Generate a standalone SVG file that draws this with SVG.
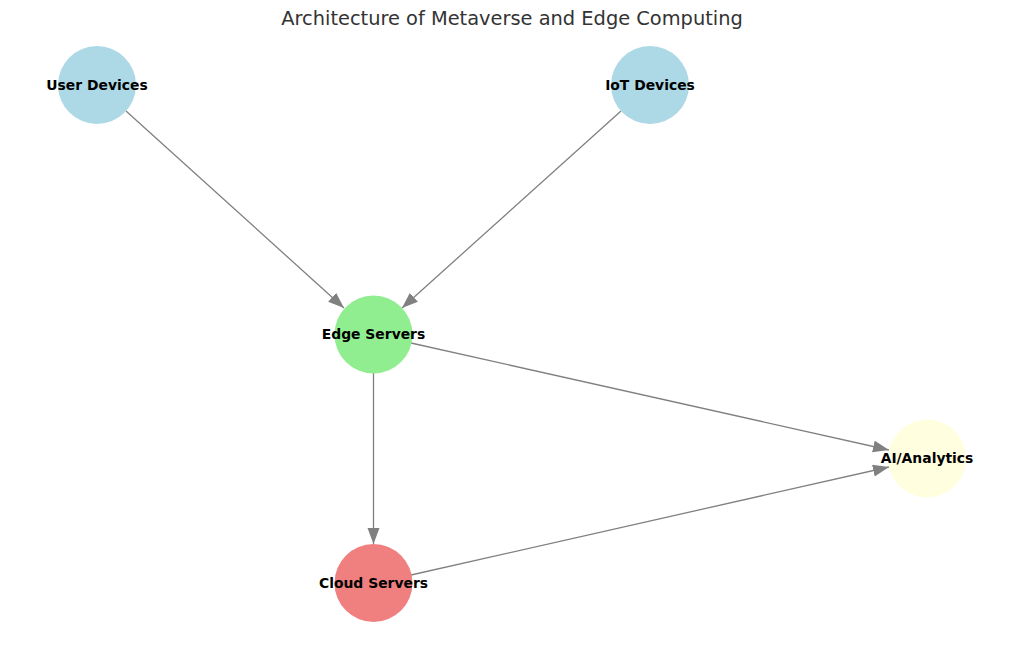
<svg xmlns="http://www.w3.org/2000/svg" width="1024" height="646" viewBox="0 0 1024 646">
<style>
.node circle{stroke:none}
.lbl{font-family:"DejaVu Sans",sans-serif;font-weight:bold;font-size:13.9px;fill:#000;text-anchor:middle}
.title{font-family:"DejaVu Sans",sans-serif;font-size:19.4px;fill:#333;text-anchor:middle}
.edge{stroke:#808080;stroke-width:1.3;fill:none;marker-end:url(#arr)}
</style>
<defs>
<marker id="arr" markerUnits="userSpaceOnUse" markerWidth="17" markerHeight="13" refX="16" refY="6" orient="auto">
<path d="M0,0 L16,6 L0,12 z" fill="#808080"/>
</marker>
</defs>
<rect width="1024" height="646" fill="#fff"/>
<text class="title" x="512" y="25">Architecture of Metaverse and Edge Computing</text>
<g id="connectors">
<line class="edge" x1="126" y1="111" x2="344" y2="308"/>
<line class="edge" x1="621" y1="111" x2="402" y2="308"/>
<line class="edge" x1="411" y1="343" x2="889" y2="450"/>
<line class="edge" x1="373.5" y1="373" x2="373.5" y2="544"/>
<line class="edge" x1="411" y1="575" x2="889" y2="467"/>
</g>
<g id="user-devices" class="node"><circle cx="97" cy="85" r="39" fill="#ADD8E6"/><text class="lbl" x="97" y="89.5">User Devices</text></g>
<g id="iot-devices" class="node"><circle cx="650" cy="85" r="39" fill="#ADD8E6"/><text class="lbl" x="650" y="89.5">IoT Devices</text></g>
<g id="edge-servers" class="node"><circle cx="373.5" cy="334.5" r="39" fill="#90EE90"/><text class="lbl" x="373.5" y="339">Edge Servers</text></g>
<g id="ai-analytics" class="node"><circle cx="927" cy="458.5" r="39" fill="#FFFFE0"/><text class="lbl" x="927" y="463">AI/Analytics</text></g>
<g id="cloud-servers" class="node"><circle cx="373.5" cy="583" r="39" fill="#F08080"/><text class="lbl" x="373.5" y="587.5">Cloud Servers</text></g>
</svg>
